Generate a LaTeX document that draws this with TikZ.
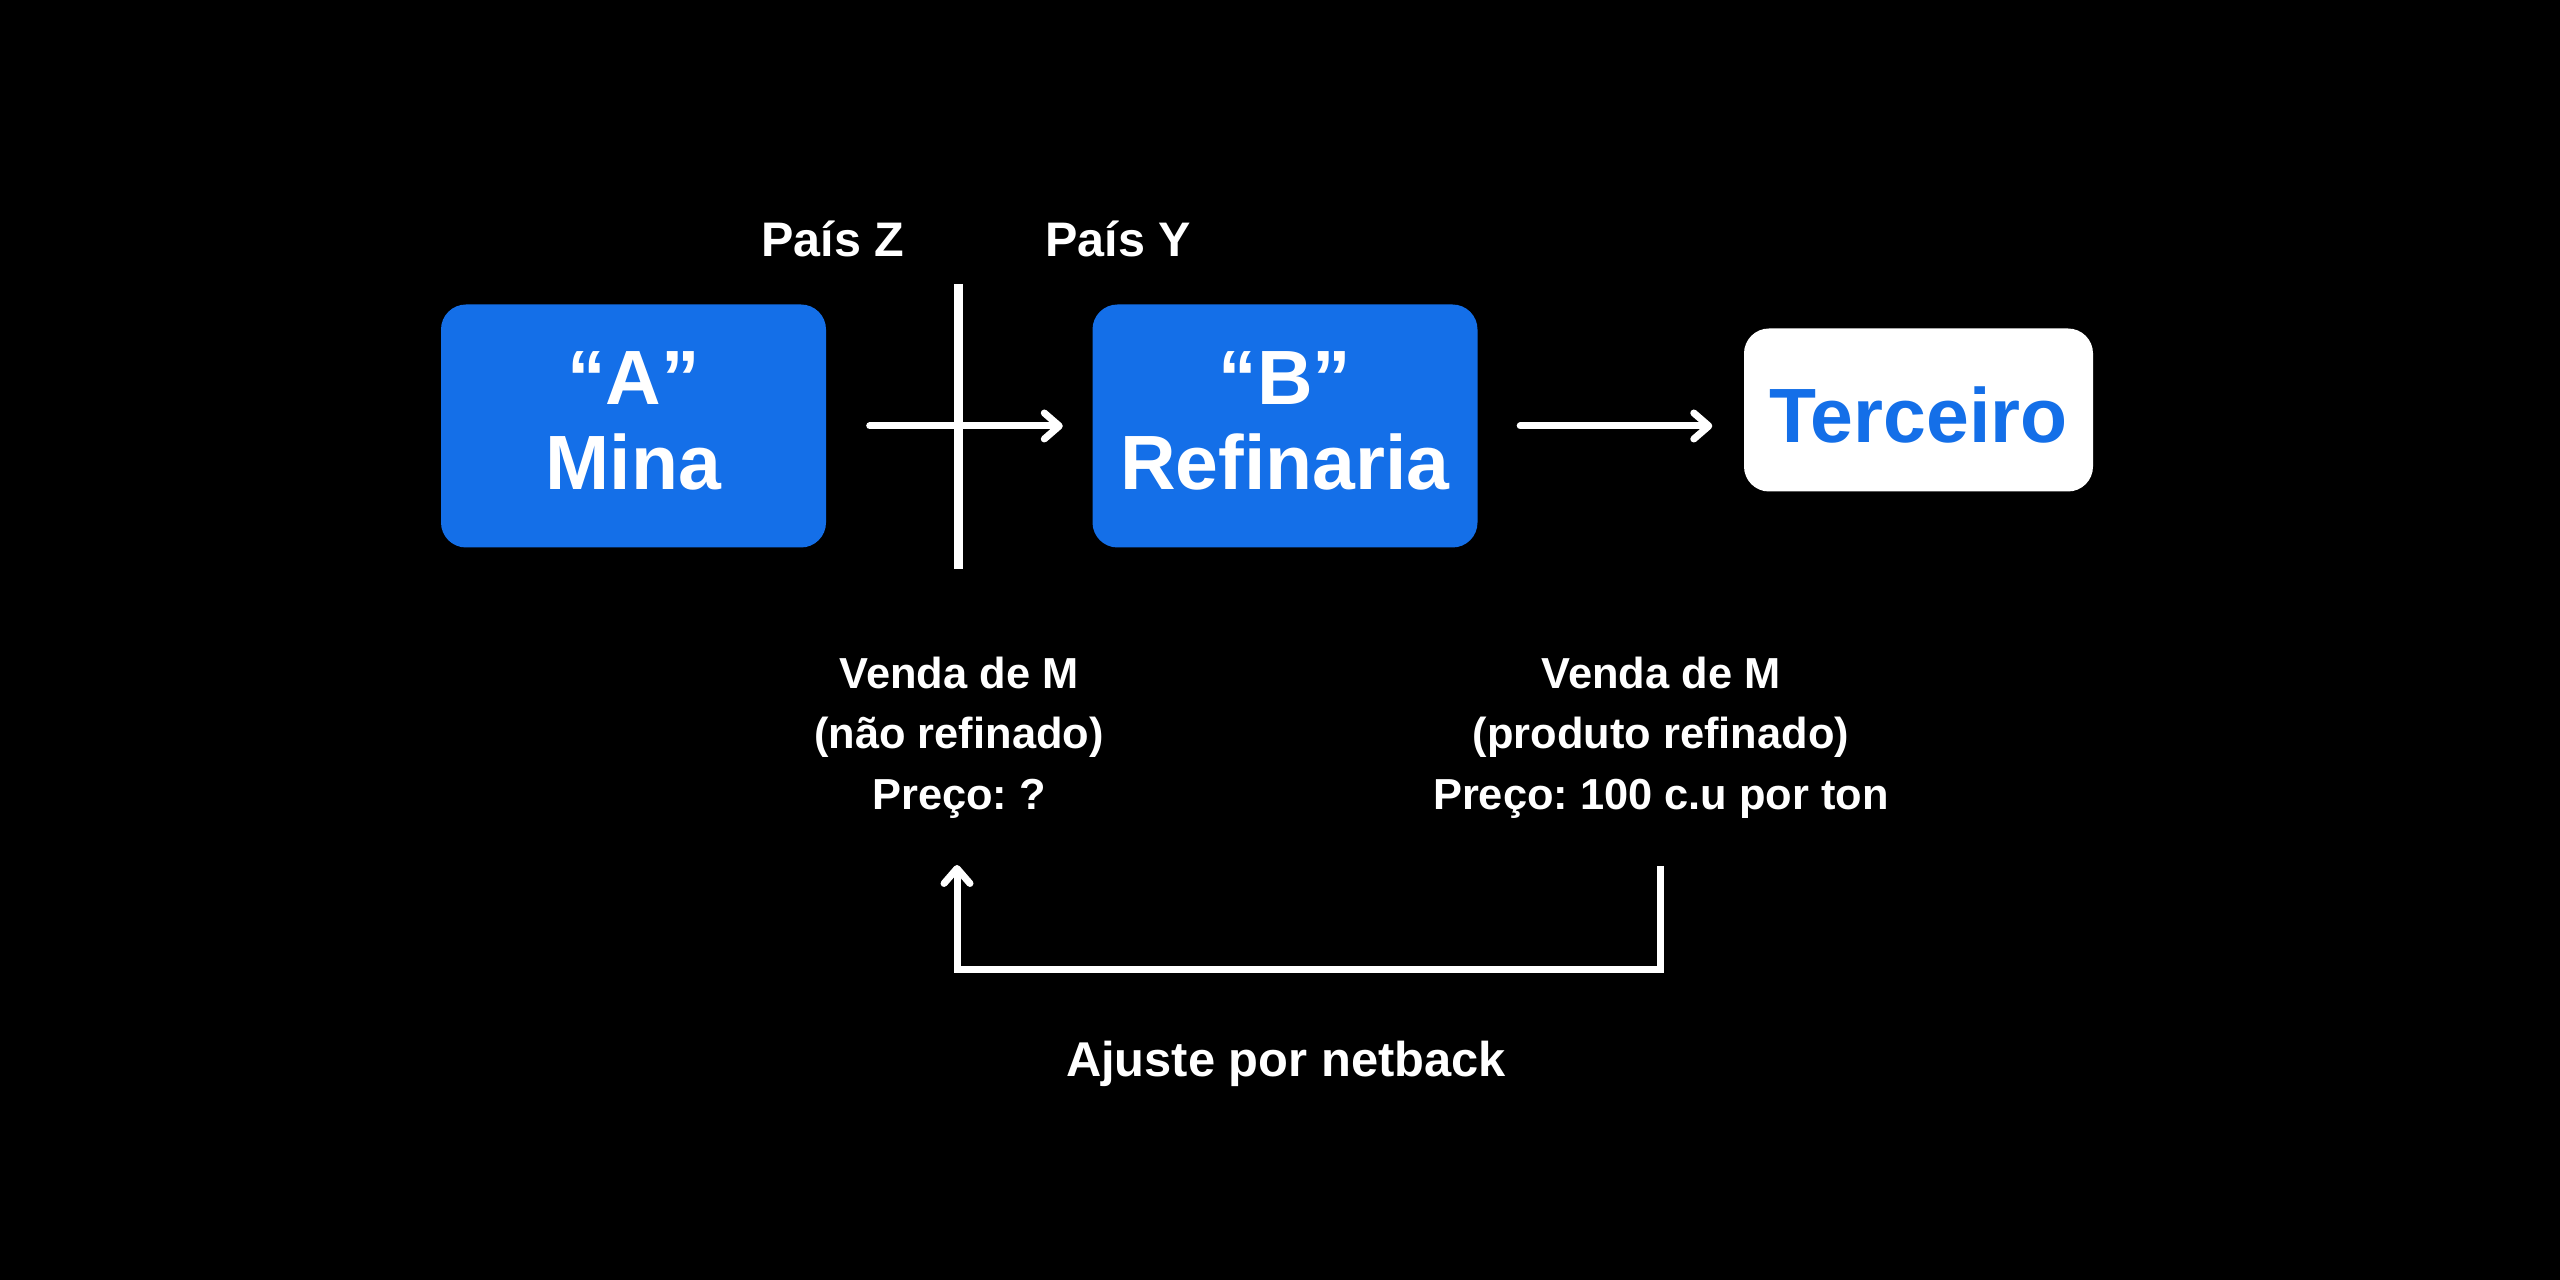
\documentclass[tikz,border=0pt]{standalone}
\usepackage{fontspec}
\setmainfont{Liberation Sans}
\usetikzlibrary{arrows.meta, calc}
\definecolor{boxblue}{RGB}{20,111,232}
\frenchspacing

\begin{document}
\begin{tikzpicture}[
    >={Straight Barb[length=0.15cm, width=0.26cm, round]},
    box/.style={fill=boxblue, rounded corners=0.25cm, minimum width=3.85cm, minimum height=2.43cm,
      align=center, text=white, inner sep=0pt, text depth=0.10cm,
      font=\bfseries\fontsize{21.9}{24.2}\selectfont},
    country/.style={anchor=base, text=white, inner sep=0pt, font=\bfseries\fontsize{13.8}{16}\selectfont},
    sale/.style={anchor=north, align=center, text=white, inner sep=0pt, font=\bfseries\fontsize{12.35}{17.2}\selectfont},
    flow/.style={->, white, line width=0.07cm, line cap=round}
  ]
      \fill[black] (0, 0) rectangle (25.6, -12.8);

      \node[box] (mina) at (6.335, -4.26) {``A''\\Mina};
      \node[box] (refinaria) at (12.85, -4.26) {``B''\\Refinaria};
      \node[box, fill=white, text=boxblue, minimum width=3.49cm, minimum height=1.63cm, text height=0.66cm, text depth=0pt] (terceiro) at (19.185, -4.10) {Terceiro};

      % fronteira
      \coordinate (fronteiraT) at (9.58, -2.84);
      \coordinate (fronteiraB) at (9.58, -5.69);
      \draw[white, line width=0.09cm] (fronteiraT) -- (fronteiraB);
      \node[country] (paisZ) at (8.33, -2.57) {País Z};
      \node[country] (paisY) at (11.18, -2.57) {País Y};

      \draw[flow, shorten <=0.43cm, shorten >=0.29cm] (mina) -- (refinaria);
      \draw[flow, shorten <=0.42cm, shorten >=0.31cm] (refinaria.east) -- (refinaria.east -| terceiro.west);

      \node[sale] (vendaZ) at (9.59, -6.56) {Venda de M\\(não refinado)\\Preço: ?};
      \node[sale] (vendaY) at (16.61, -6.56) {Venda de M\\(produto refinado)\\Preço: 100 c.u por ton};

      % netback
      \coordinate (netR) at (16.60, -8.66);
      \coordinate (netL) at (9.57, -8.65);
      \draw[flow, line cap=butt] (netR) -- ++(0, -1.04) -| (netL);
      \node[country, font=\bfseries\fontsize{13.9}{16}\selectfont] (ajuste) at (12.86, -10.77) {Ajuste por netback};

    \end{tikzpicture}
\end{document}
